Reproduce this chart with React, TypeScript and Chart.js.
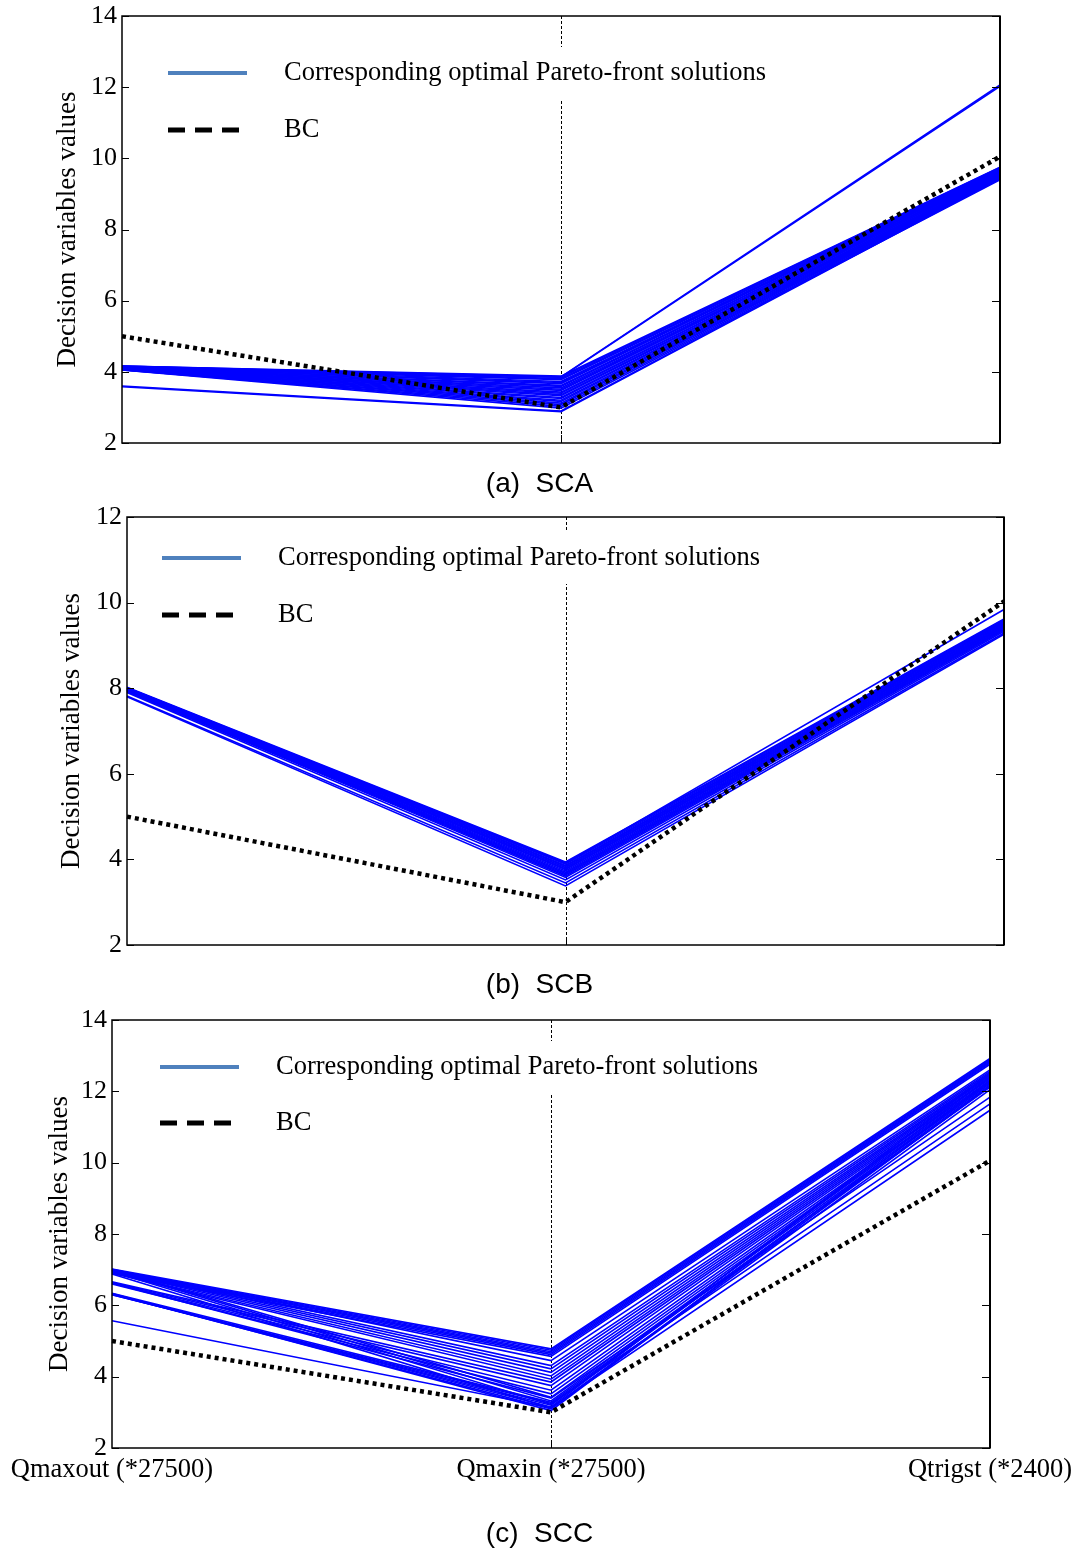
import React, { useEffect, useRef } from 'react';
import { Chart, registerables } from 'chart.js';

Chart.register(...registerables);

// ---------- shared texts ----------
const axisLabels = ['Qmaxout (*27500)', 'Qmaxin (*27500)', 'Qtrigst (*2400)'];
const yTitle = 'Decision variables values';
const legendLabels = ['Corresponding optimal Pareto-front solutions', 'BC'];
const yTicksA = [2, 4, 6, 8, 10, 12, 14];
const yTicksB = [2, 4, 6, 8, 10, 12];
const yTicksC = [2, 4, 6, 8, 10, 12, 14];
const subtitles = ['(a)  SCA', '(b)  SCB', '(c)  SCC'];

// ---------- BC (base case) ----------
const bcA = [5.0, 3.0, 10.05];
const bcB = [5.0, 3.0, 10.03];
const bcC = [5.0, 3.0, 10.06];

// ---------- panel (a) SCA solutions: one entry per solution ----------
const solA_out = [4.16, 4.15, 4.16, 4.14, 4.15, 4.13, 4.14, 4.12, 4.13, 4.11, 4.12, 4.10, 4.11, 4.09, 4.10, 4.08, 4.09, 4.07, 4.08, 4.06, 4.07, 4.05, 4.06, 4.05, 3.58, 3.60, 4.16, 4.15];
const solA_in = [3.88, 3.85, 3.81, 3.78, 3.73, 3.70, 3.67, 3.62, 3.59, 3.55, 3.51, 3.48, 3.43, 3.40, 3.36, 3.33, 3.28, 3.25, 3.20, 3.17, 3.12, 3.08, 3.03, 2.98, 2.88, 2.90, 3.86, 3.85];
const solA_trig = [9.75, 9.74, 9.72, 9.71, 9.70, 9.68, 9.67, 9.65, 9.64, 9.62, 9.61, 9.60, 9.58, 9.57, 9.55, 9.53, 9.52, 9.50, 9.49, 9.47, 9.46, 9.44, 9.42, 9.40, 9.43, 9.45, 12.06, 12.02];

// ---------- panel (b) SCB solutions ----------
const solB_out = [8.02, 8.01, 8.00, 8.00, 7.99, 7.98, 7.98, 7.97, 7.96, 7.96, 7.95, 7.94, 7.93, 7.92, 7.90, 7.82, 7.80, 8.01];
const solB_in = [3.94, 3.92, 3.89, 3.86, 3.84, 3.81, 3.78, 3.76, 3.73, 3.70, 3.67, 3.64, 3.61, 3.58, 3.52, 3.45, 3.38, 3.90];
const solB_trig = [9.62, 9.60, 9.58, 9.56, 9.54, 9.52, 9.50, 9.48, 9.46, 9.44, 9.42, 9.40, 9.38, 9.36, 9.33, 9.29, 9.26, 9.84];

// ---------- panel (c) SCC solutions ----------
const solC_out = [7.02, 7.00, 6.98, 6.96, 6.93, 6.90, 7.01, 6.99, 6.97, 6.95, 6.92, 6.90, 6.66, 6.64, 6.62, 6.60, 7.00, 6.98, 6.94, 6.88, 6.34, 6.30, 6.32, 6.62, 6.30, 5.57, 6.31, 6.33];
const solC_in = [4.78, 4.74, 4.70, 4.66, 4.62, 4.57, 4.45, 4.31, 4.22, 4.12, 4.02, 3.93, 3.85, 3.75, 3.62, 3.52, 3.42, 3.32, 3.22, 3.12, 3.28, 3.20, 3.15, 3.40, 3.25, 3.13, 3.10, 3.05];
const solC_trig = [12.92, 12.89, 12.86, 12.83, 12.80, 12.76, 12.60, 12.56, 12.52, 12.48, 12.45, 12.42, 12.38, 12.35, 12.31, 12.28, 12.25, 12.22, 12.18, 12.15, 12.12, 12.40, 12.50, 11.84, 11.65, 11.47, 12.05, 12.30];

type Panel = {
  top: number; height: number;
  padLeft: number; axisW: number; padTop: number; padRight: number; padBottom: number;
  yMax: number; yTicks: number[]; showX: boolean;
  legDx: number; legDy1: number; legDy2: number;
  bc: number[]; out: number[]; mid: number[]; trig: number[];
  subtitle: string; subY: number;
};

const SERIF = '"Liberation Serif", "Times New Roman", serif';

const panels: Panel[] = [
  { top: 0, height: 470, padLeft: 48, axisW: 74, padTop: 16, padRight: 79, padBottom: 27, yMax: 14, yTicks: yTicksA, showX: false,
    legDx: 46, legDy1: 57, legDy2: 114, bc: bcA, out: solA_out, mid: solA_in, trig: solA_trig, subtitle: subtitles[0], subY: 483 },
  { top: 490, height: 480, padLeft: 52, axisW: 75, padTop: 27, padRight: 75, padBottom: 25, yMax: 12, yTicks: yTicksB, showX: false,
    legDx: 35, legDy1: 41, legDy2: 98, bc: bcB, out: solB_out, mid: solB_in, trig: solB_trig, subtitle: subtitles[1], subY: 984 },
  { top: 1000, height: 520, padLeft: 40, axisW: 72, padTop: 20, padRight: 89, padBottom: 32, yMax: 14, yTicks: yTicksC, showX: true,
    legDx: 48, legDy1: 47, legDy2: 103, bc: bcC, out: solC_out, mid: solC_in, trig: solC_trig, subtitle: subtitles[2], subY: 1533 },
];

const decor = {
  id: 'decor',
  beforeDatasetsDraw(chart: any) {
    const { ctx, chartArea: { top, bottom } } = chart;
    const xm = Math.round(chart.scales.x.getPixelForValue(1)) + 0.5;
    ctx.save();
    ctx.strokeStyle = '#000';
    ctx.lineWidth = 1;
    ctx.setLineDash([3, 2]);
    ctx.beginPath();
    ctx.moveTo(xm, top);
    ctx.lineTo(xm, bottom);
    ctx.stroke();
    ctx.restore();
  },
  afterDraw(chart: any, _args: any, opts: any) {
    const { ctx, chartArea: { left, right, top, bottom } } = chart;
    const y = chart.scales.y;
    const xm = Math.round(chart.scales.x.getPixelForValue(1)) + 0.5;
    ctx.save();
    // legend
    const lx = left + opts.legDx;
    const ly1 = top + opts.legDy1;
    const ly2 = top + opts.legDy2;
    ctx.font = `26.5px ${SERIF}`;
    ctx.textBaseline = 'middle';
    ctx.textAlign = 'left';
    const tw = ctx.measureText(opts.labels[0]).width;
    ctx.fillStyle = '#fff';
    ctx.fillRect(lx + 112, ly1 - 26, tw + 8, 52);
    ctx.strokeStyle = '#4F81BD';
    ctx.lineWidth = 4;
    ctx.beginPath(); ctx.moveTo(lx, ly1); ctx.lineTo(lx + 79, ly1); ctx.stroke();
    ctx.strokeStyle = '#000';
    ctx.lineWidth = 5;
    ctx.setLineDash([17, 10]);
    ctx.beginPath(); ctx.moveTo(lx, ly2); ctx.lineTo(lx + 74, ly2); ctx.stroke();
    ctx.setLineDash([]);
    ctx.fillStyle = '#000';
    ctx.fillText(opts.labels[0], lx + 116, ly1);
    ctx.fillText(opts.labels[1], lx + 116, ly2);
    // frame
    ctx.strokeStyle = '#000';
    ctx.lineWidth = 1.5;
    ctx.strokeRect(left, top, right - left, bottom - top);
    ctx.lineWidth = 2;
    ctx.beginPath(); ctx.moveTo(right, top); ctx.lineTo(right, bottom); ctx.stroke();
    // inward ticks
    ctx.lineWidth = 1;
    y.ticks.forEach((t: any) => {
      const py = Math.round(y.getPixelForValue(t.value)) + 0.5;
      ctx.beginPath();
      ctx.moveTo(left, py); ctx.lineTo(left + 7, py);
      ctx.moveTo(right, py); ctx.lineTo(right - 8, py);
      ctx.stroke();
    });
    ctx.beginPath(); ctx.moveTo(xm, bottom); ctx.lineTo(xm, bottom - 8); ctx.stroke();
    ctx.restore();
  },
};

function PanelChart({ p }: { p: Panel }) {
  const ref = useRef<HTMLCanvasElement | null>(null);
  useEffect(() => {
    if (!ref.current) return;
    const solutions = p.out.map((v, i) => ({
      label: legendLabels[0],
      data: [v, p.mid[i], p.trig[i]],
      borderColor: '#0000FF',
      borderWidth: 1.6,
      pointRadius: 0,
      tension: 0,
      fill: false,
      order: 2,
    }));
    const chart = new Chart(ref.current, {
      type: 'line',
      data: {
        labels: axisLabels,
        datasets: [
          { label: legendLabels[1], data: p.bc, borderColor: '#000', borderWidth: 4.5, borderDash: [4, 4],
            borderCapStyle: 'butt', pointRadius: 0, tension: 0, fill: false, order: 0 } as any,
          ...solutions,
        ],
      },
      options: {
        responsive: false,
        animation: false,
        devicePixelRatio: 1,
        events: [],
        layout: { padding: { left: p.padLeft, top: p.padTop, right: p.padRight, bottom: p.padBottom } },
        plugins: {
          legend: { display: false },
          tooltip: { enabled: false },
          decor: { legDx: p.legDx, legDy1: p.legDy1, legDy2: p.legDy2, labels: legendLabels },
        } as any,
        scales: {
          x: {
            type: 'category',
            display: p.showX,
            offset: false,
            grid: { display: false, drawTicks: false },
            border: { display: false },
            ticks: { color: '#000', font: { family: SERIF, size: 26.5 }, padding: 6, maxRotation: 0, autoSkip: false },
            afterFit: (s: any) => { if (p.showX) s.height = 40; },
          },
          y: {
            min: 2,
            max: p.yMax,
            afterBuildTicks: (s: any) => { s.ticks = p.yTicks.map((v) => ({ value: v })); },
            grid: { display: false, drawTicks: false },
            border: { display: false },
            ticks: { color: '#000', font: { family: SERIF, size: 26, lineHeight: 0.8 }, padding: 5 },
            title: { display: true, text: yTitle, color: '#000', font: { family: SERIF, size: 27 }, padding: { top: 4, bottom: 4 } },
            afterFit: (s: any) => { s.width = p.axisW; },
          },
        },
      } as any,
      plugins: [decor],
    });
    return () => chart.destroy();
  }, [p]);
  return (
    <canvas
      ref={ref}
      width={1079}
      height={p.height}
      style={{ position: 'absolute', left: 0, top: p.top, width: 1079, height: p.height }}
    />
  );
}

export default function App() {
  return (
    <div style={{ position: 'absolute', left: 0, top: 0, width: 1079, height: 1550, background: '#fff', overflow: 'hidden' }}>
      {panels.map((p, i) => (
        <PanelChart key={i} p={p} />
      ))}
      {panels.map((p, i) => (
        <div
          key={'s' + i}
          style={{
            position: 'absolute', left: 0, width: 1079, top: p.subY - 17, height: 34, lineHeight: '34px',
            textAlign: 'center', fontFamily: '"Liberation Sans", Arial, sans-serif', fontSize: 28,
            whiteSpace: 'pre', color: '#000',
          }}
        >
          {p.subtitle}
        </div>
      ))}
    </div>
  );
}
